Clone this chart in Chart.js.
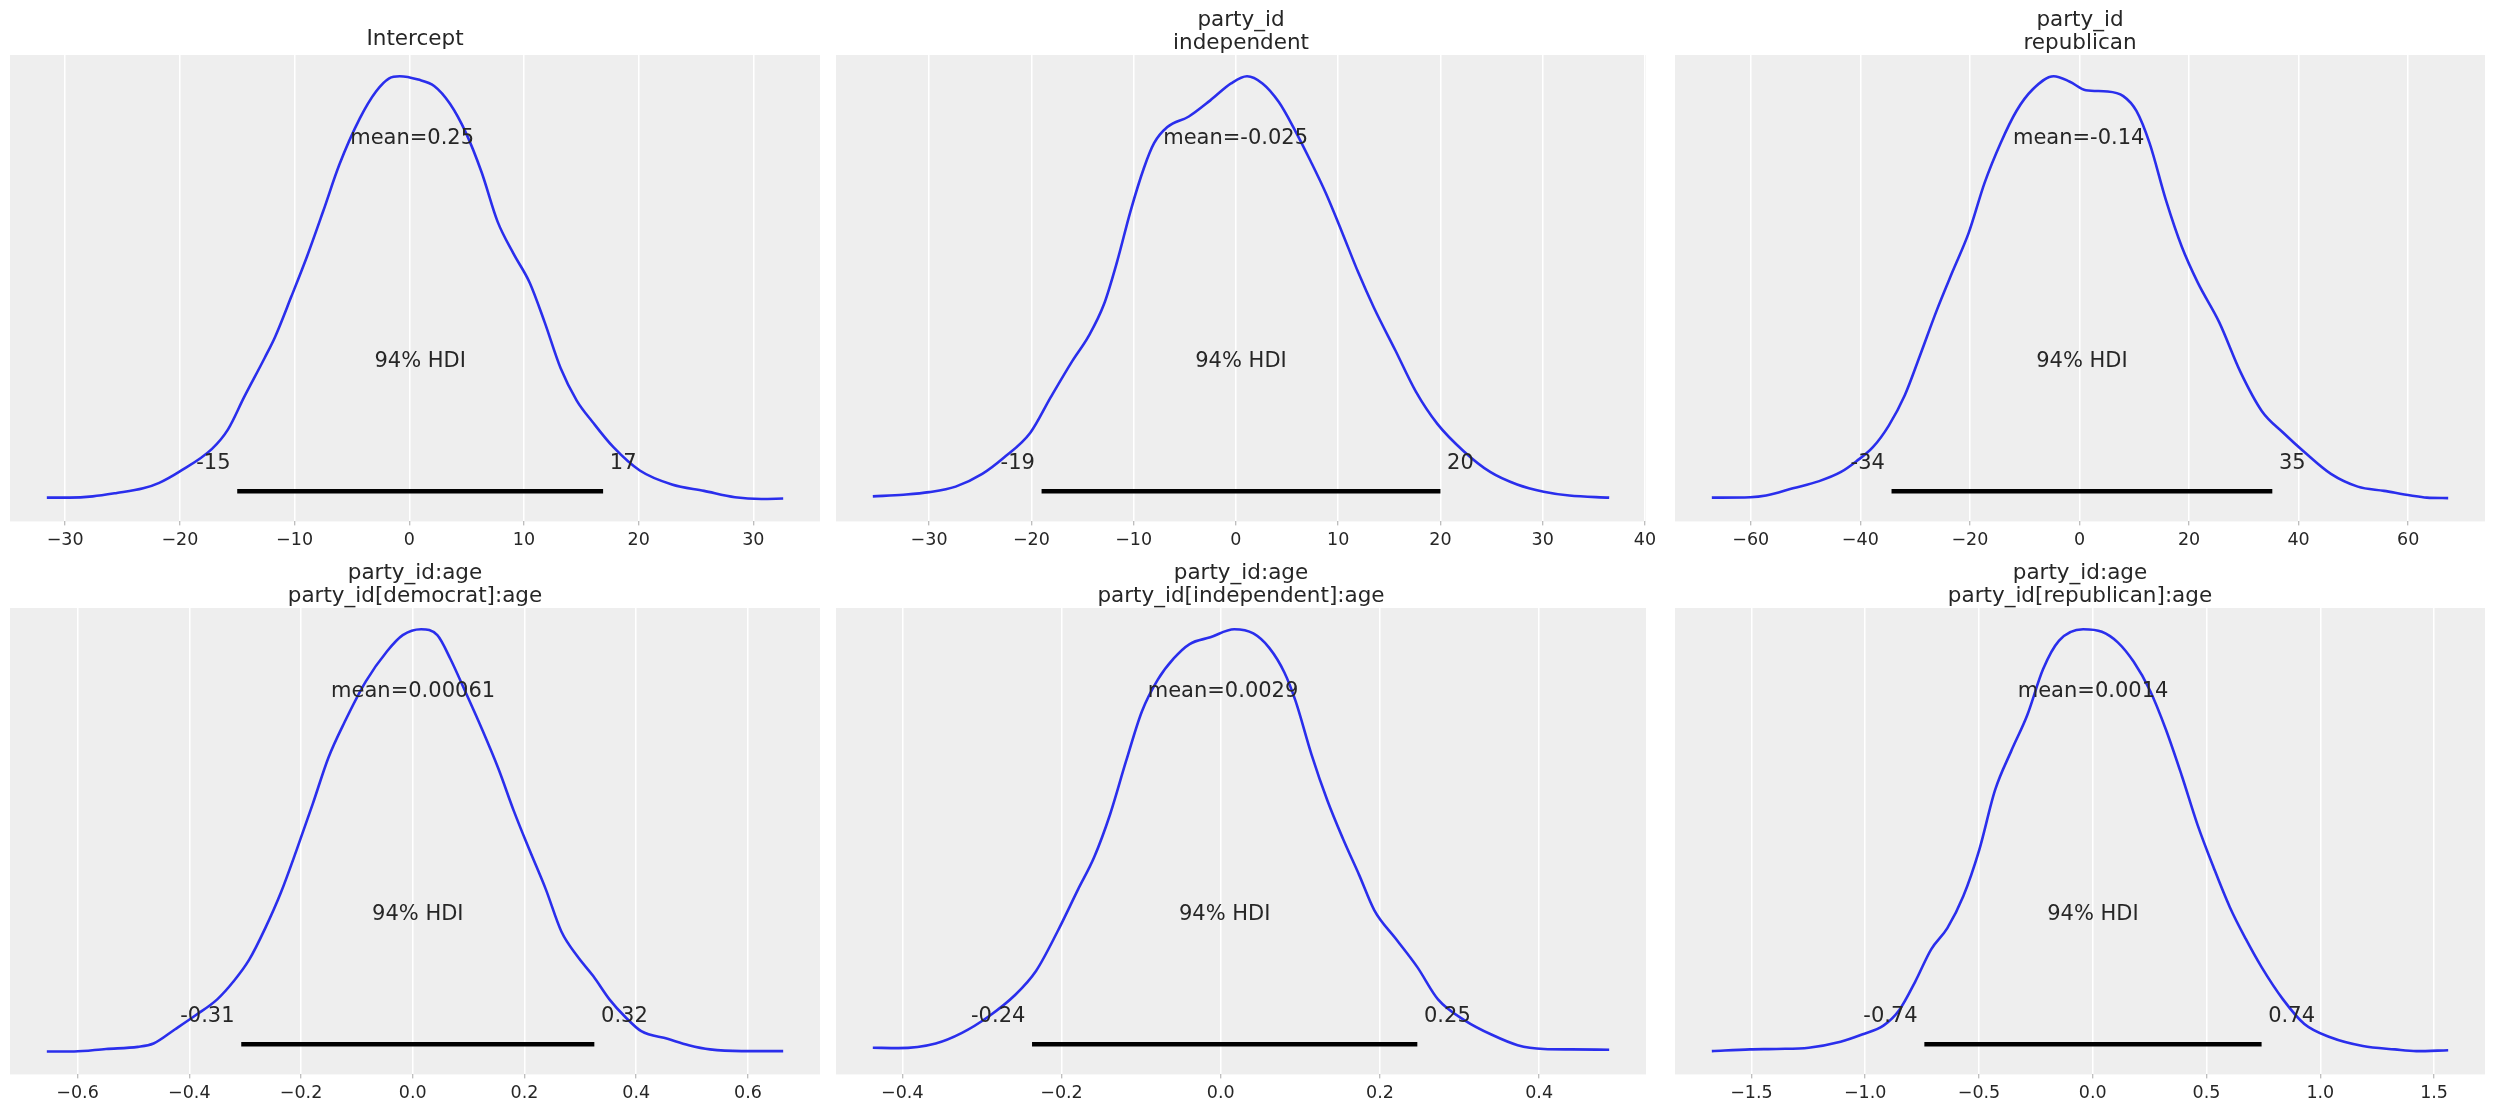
<!DOCTYPE html>
<html>
<head>
<meta charset="utf-8">
<script src="https://cdn.jsdelivr.net/npm/chart.js@4.4.1/dist/chart.umd.min.js"></script>
<style>
  html, body { margin: 0; padding: 0; background: #ffffff; overflow: hidden; }
  body { width: 2495px; height: 1112px; position: relative; }
  .panel { position: absolute; }
</style>
</head>
<body>
<script>
// posterior densities (density scaled so the peak is 1)
const interceptX = [-31.6, -29.6, -27.6, -25.5, -23.2, -21.8, -20.0, -17.2, -15.8, -14.4, -12.6, -11.7, -10.3, -8.9, -7.5, -6.1, -4.3, -2.9, -1.75, -0.83, 0.78, 2.17, 3.55, 4.93, 6.3, 7.7, 9.1, 10.5, 11.8, 13.2, 14.6, 16.0, 17.8, 20.1, 22.9, 25.7, 28.4, 30.7, 32.6];
const interceptY = [0.006, 0.006, 0.009, 0.017, 0.028, 0.041, 0.068, 0.121, 0.167, 0.243, 0.336, 0.385, 0.479, 0.576, 0.682, 0.791, 0.901, 0.964, 0.995, 1.0, 0.992, 0.977, 0.935, 0.867, 0.774, 0.657, 0.581, 0.513, 0.42, 0.311, 0.235, 0.184, 0.125, 0.07, 0.037, 0.022, 0.007, 0.003, 0.004];

const independentX = [-35.5, -32.5, -30.0, -27.4, -24.8, -22.7, -20.1, -18.1, -16.0, -14.4, -12.9, -11.6, -10.3, -9.0, -8.0, -6.7, -4.6, -2.5, -0.47, 1.09, 2.6, 4.2, 5.7, 7.3, 8.8, 10.4, 11.95, 13.5, 15.6, 17.6, 19.7, 22.3, 24.9, 27.5, 30.1, 32.6, 36.5];
const independentY = [0.009, 0.013, 0.019, 0.032, 0.062, 0.1, 0.159, 0.243, 0.328, 0.387, 0.462, 0.564, 0.682, 0.783, 0.842, 0.88, 0.905, 0.943, 0.983, 1.0, 0.983, 0.939, 0.876, 0.8, 0.724, 0.631, 0.538, 0.454, 0.353, 0.256, 0.18, 0.115, 0.066, 0.037, 0.02, 0.011, 0.006];

const republicanX = [-67.1, -60.1, -57.2, -52.3, -47.5, -43.6, -40.7, -37.7, -34.8, -31.9, -29.0, -26.1, -23.2, -20.2, -17.3, -14.4, -11.5, -8.6, -4.7, -1.75, 1.17, 5.1, 8.0, 10.4, 12.8, 15.8, 18.7, 21.6, 25.5, 29.4, 33.3, 37.2, 41.1, 45.9, 50.8, 55.6, 60.5, 63.4, 67.3];
const republicanY = [0.006, 0.007, 0.011, 0.028, 0.045, 0.066, 0.092, 0.125, 0.176, 0.247, 0.345, 0.446, 0.538, 0.631, 0.749, 0.842, 0.918, 0.968, 1.0, 0.987, 0.967, 0.964, 0.953, 0.918, 0.842, 0.707, 0.597, 0.513, 0.42, 0.302, 0.21, 0.159, 0.113, 0.062, 0.032, 0.022, 0.011, 0.006, 0.005];

const democratAgeX = [-0.655, -0.606, -0.549, -0.492, -0.464, -0.426, -0.388, -0.35, -0.321, -0.293, -0.264, -0.236, -0.208, -0.179, -0.151, -0.122, -0.084, -0.046, -0.018, 0.015, 0.044, 0.067, 0.096, 0.124, 0.153, 0.181, 0.209, 0.238, 0.266, 0.295, 0.323, 0.352, 0.38, 0.409, 0.456, 0.494, 0.532, 0.589, 0.663];
const democratAgeY = [0.004, 0.004, 0.01, 0.015, 0.023, 0.056, 0.09, 0.127, 0.169, 0.22, 0.295, 0.379, 0.479, 0.588, 0.697, 0.781, 0.877, 0.948, 0.986, 1.0, 0.986, 0.931, 0.847, 0.764, 0.672, 0.571, 0.479, 0.387, 0.287, 0.228, 0.182, 0.127, 0.086, 0.052, 0.034, 0.019, 0.009, 0.005, 0.005];

const independentAgeX = [-0.437, -0.405, -0.358, -0.325, -0.292, -0.259, -0.232, -0.205, -0.179, -0.159, -0.139, -0.119, -0.099, -0.079, -0.059, -0.039, -0.013, 0.017, 0.041, 0.061, 0.08, 0.094, 0.114, 0.134, 0.154, 0.174, 0.193, 0.22, 0.247, 0.273, 0.307, 0.34, 0.373, 0.406, 0.44, 0.488];
const independentAgeY = [0.013, 0.012, 0.023, 0.048, 0.086, 0.136, 0.194, 0.287, 0.387, 0.462, 0.563, 0.688, 0.806, 0.881, 0.931, 0.965, 0.981, 1.0, 0.99, 0.956, 0.898, 0.831, 0.705, 0.596, 0.504, 0.42, 0.337, 0.27, 0.203, 0.127, 0.077, 0.044, 0.019, 0.01, 0.009, 0.008];

const republicanAgeX = [-1.674, -1.506, -1.389, -1.248, -1.108, -1.014, -0.92, -0.85, -0.78, -0.71, -0.639, -0.569, -0.499, -0.429, -0.358, -0.288, -0.218, -0.148, -0.042, 0.04, 0.11, 0.18, 0.251, 0.321, 0.391, 0.461, 0.532, 0.602, 0.672, 0.742, 0.836, 0.93, 1.047, 1.187, 1.328, 1.422, 1.562];
const republicanAgeY = [0.005, 0.009, 0.01, 0.013, 0.027, 0.044, 0.065, 0.102, 0.169, 0.245, 0.295, 0.37, 0.479, 0.621, 0.713, 0.797, 0.906, 0.973, 1.0, 0.994, 0.969, 0.923, 0.856, 0.764, 0.655, 0.538, 0.437, 0.345, 0.27, 0.203, 0.127, 0.069, 0.037, 0.017, 0.009, 0.005, 0.007];

const titles = [
  ["Intercept"],
  ["party_id", "independent"],
  ["party_id", "republican"],
  ["party_id:age", "party_id[democrat]:age"],
  ["party_id:age", "party_id[independent]:age"],
  ["party_id:age", "party_id[republican]:age"]
];
const means = [0.25, -0.025, -0.14, 0.00061, 0.0029, 0.0014];
const meanLabels = ["0.25", "-0.025", "-0.14", "0.00061", "0.0029", "0.0014"];
const hdiLow = [-15, -19, -34.3, -0.307, -0.237, -0.74];
const hdiHigh = [16.9, 20, 35.2, 0.325, 0.247, 0.742];
const hdiLowLabels = ["-15", "-19", "-34", "-0.31", "-0.24", "-0.74"];
const hdiHighLabels = ["17", "20", "35", "0.32", "0.25", "0.74"];
const tickSteps = [10, 10, 20, 0.2, 0.2, 0.5];
const tickDecimals = [0, 0, 0, 1, 1, 1];

const xs = [interceptX, independentX, republicanX, democratAgeX, independentAgeX, republicanAgeX];
const ys = [interceptY, independentY, republicanY, democratAgeY, independentAgeY, republicanAgeY];

// look
const BLUE = "#2a2eec";
const TEXT = "#262626";
const FONT = '"DejaVu Sans", sans-serif';
const TITLE_SIZE = 21.5;
const TITLE_LH = 23.3;
const LABEL_SIZE = 21;
const TICK_SIZE = 17.5;
const Y_TOP = 1.05;

// layout (chart area of each panel)
const COL_LEFT = [9.5, 836.4, 1675];
const ROW_TOP = [54.5, 607.8];
const AREA_W = 810;
const AREA_H = 466.4;
const T = 54, B = 45, P = 30;

const hdiText = {
  id: "hdiText",
  beforeDraw(chart) {
    const a = chart.chartArea, ctx = chart.ctx;
    ctx.save();
    ctx.fillStyle = "#eeeeee";
    ctx.fillRect(a.left, a.top, a.right - a.left, a.bottom - a.top);
    ctx.restore();
  },
  afterDatasetsDraw(chart, args, o) {
    const x = chart.scales.x, y = chart.scales.y, ctx = chart.ctx;
    ctx.save();
    ctx.font = LABEL_SIZE + "px " + FONT;
    ctx.fillStyle = TEXT;
    ctx.textBaseline = "alphabetic";
    const put = (txt, vx, vy, align) => {
      ctx.textAlign = align;
      ctx.fillText(txt, x.getPixelForValue(vx), y.getPixelForValue(vy));
    };
    put("mean=" + o.meanLabel, o.mean, Y_TOP * 0.8, "center");
    put(o.lowLabel + " ", o.low, Y_TOP * 0.07, "right");
    put(" " + o.highLabel, o.high, Y_TOP * 0.07, "left");
    put("94% HDI", (o.low + o.high) / 2, Y_TOP * 0.3, "center");
    ctx.restore();
  }
};

function tickFormat(decimals) {
  return (v) => {
    if (Math.abs(v) < 1e-9) v = 0;
    return v.toFixed(decimals).replace("-", "\u2212");
  };
}

function panel(i) {
  const col = i % 3, row = Math.floor(i / 3);
  const div = document.createElement("div");
  div.className = "panel";
  div.style.left = (COL_LEFT[col] - P) + "px";
  div.style.top = (ROW_TOP[row] - T) + "px";
  div.style.width = (AREA_W + 2 * P) + "px";
  div.style.height = (T + AREA_H + B) + "px";
  const canvas = document.createElement("canvas");
  div.appendChild(canvas);
  document.body.appendChild(div);

  const px = xs[i], py = ys[i];
  const lo = Math.min(...px), hi = Math.max(...px), span = hi - lo;
  const lines = titles[i].length;
  const padBottom = lines === 1 ? 4 : 0;
  const padTop = T - padBottom - lines * TITLE_LH;

  return new Chart(canvas, {
    type: "line",
    data: {
      datasets: [
        {
          data: [{ x: hdiLow[i], y: Y_TOP * 0.02 }, { x: hdiHigh[i], y: Y_TOP * 0.02 }],
          borderColor: "#000000",
          borderWidth: 4.6,
          borderCapStyle: "butt",
          pointRadius: 0
        },
        {
          data: px.map((v, k) => ({ x: v, y: py[k] })),
          borderColor: BLUE,
          borderWidth: 2.6,
          pointRadius: 0,
          cubicInterpolationMode: "monotone"
        }
      ]
    },
    options: {
      responsive: true,
      maintainAspectRatio: false,
      animation: false,
      layout: { padding: { left: P, right: P, top: 0, bottom: 0 } },
      plugins: {
        legend: { display: false },
        tooltip: { enabled: false },
        title: {
          display: true,
          text: titles[i],
          color: TEXT,
          font: { family: FONT, size: TITLE_SIZE, weight: "normal", lineHeight: TITLE_LH / TITLE_SIZE },
          padding: { top: padTop, bottom: padBottom }
        },
        hdiText: {
          mean: means[i], meanLabel: meanLabels[i],
          low: hdiLow[i], high: hdiHigh[i],
          lowLabel: hdiLowLabels[i], highLabel: hdiHighLabels[i]
        }
      },
      scales: {
        x: {
          type: "linear",
          min: lo - 0.05 * span,
          max: hi + 0.05 * span,
          border: { display: false },
          grid: { color: "#ffffff", lineWidth: 1.5, tickColor: "#a8a8a8", tickLength: 4, tickWidth: 1 },
          ticks: {
            stepSize: tickSteps[i],
            includeBounds: false,
            padding: 5,
            color: TEXT,
            font: { family: FONT, size: TICK_SIZE },
            maxRotation: 0,
            callback: tickFormat(tickDecimals[i])
          },
          afterFit(scale) { scale.height = B; }
        },
        y: { display: false, min: -0.05, max: Y_TOP }
      }
    },
    plugins: [hdiText]
  });
}

for (let i = 0; i < 6; i++) panel(i);
</script>
</body>
</html>
